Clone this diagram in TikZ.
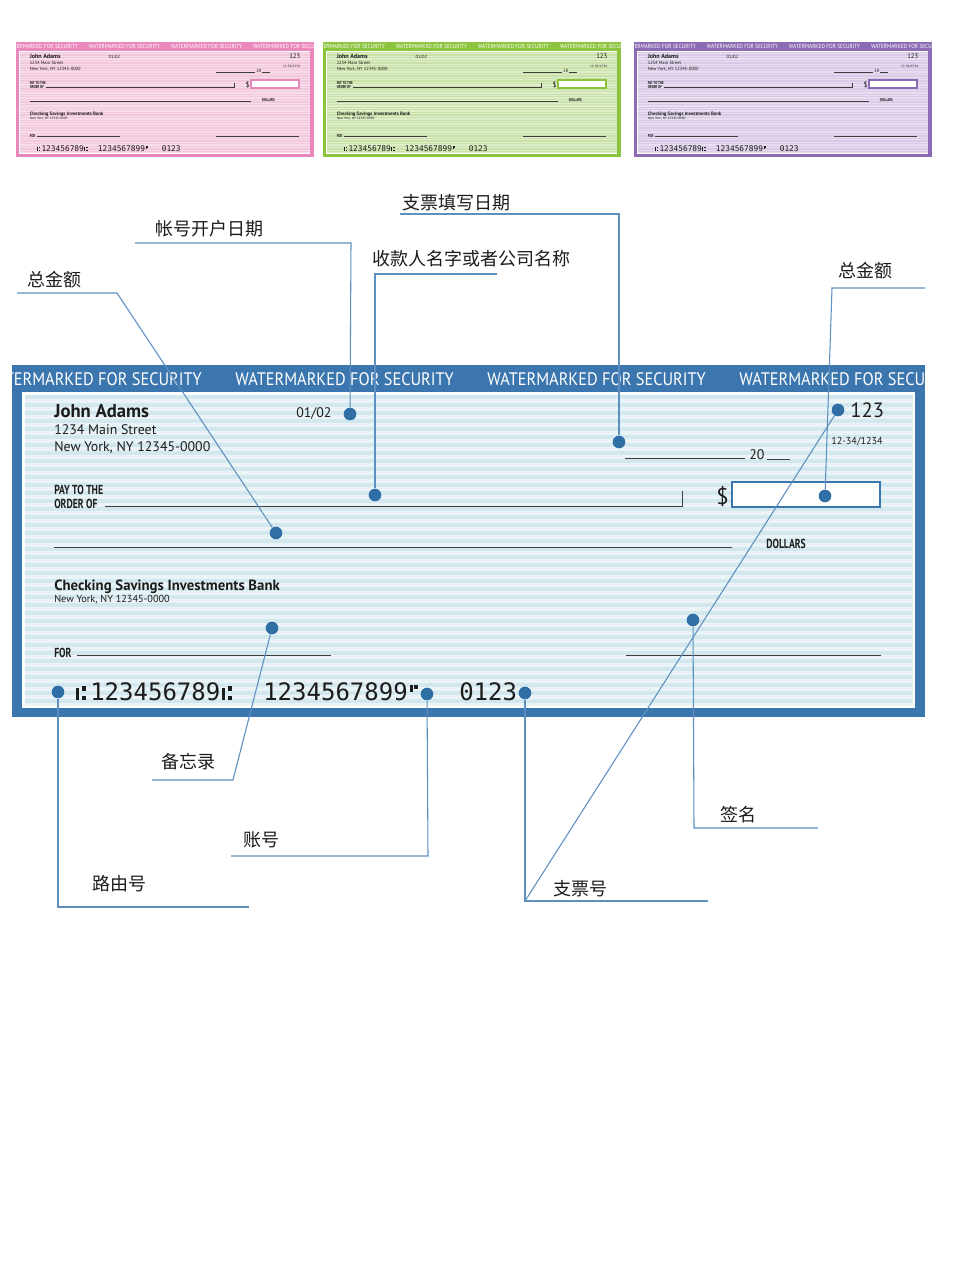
\documentclass[tikz,border=0pt]{standalone}
\usepackage{fontspec}
\setmainfont{PT Sans}
\newfontfamily\condfont[FakeStretch=0.74]{PT Sans}
\newfontfamily\hdrfont[FakeStretch=0.9]{PT Sans}
\newfontfamily\micrfont{DejaVu Sans Mono}
\newfontfamily\cjk{Noto Sans CJK SC}
\definecolor{mainframe}{HTML}{3B76AE}
\definecolor{maininner}{HTML}{EAF4F7}
\definecolor{mainstripe}{HTML}{D3E8EE}
\definecolor{pinkframe}{HTML}{EA88BC}
\definecolor{pinkinner}{HTML}{F9DCE9}
\definecolor{pinkstripe}{HTML}{F2C8DB}
\definecolor{greenframe}{HTML}{8CC43F}
\definecolor{greeninner}{HTML}{DEEEC8}
\definecolor{greenstripe}{HTML}{C9E1A8}
\definecolor{purpframe}{HTML}{8B6BB3}
\definecolor{purpinner}{HTML}{E8DEF0}
\definecolor{purpstripe}{HTML}{D8C9E6}
\definecolor{conncol}{HTML}{5D8FC0}
\definecolor{dotcol}{HTML}{2F6FA5}
\definecolor{ink}{HTML}{1C1C1C}
\tikzset{
  txt/.style={inner sep=0pt,anchor=base west,text=ink},
  hdr/.style={inner sep=0pt,anchor=base west,font=\hdrfont\fontsize{13.6}{14}\selectfont},
  rule/.style={draw=ink!85,line width=0.7pt},
  micr/.style={inner sep=0pt,anchor=base west,text=ink,font=\micrfont\fontsize{18}{19}\selectfont},
  conn/.style={draw=conncol,line width=0.8pt},
  dotnode/.style={circle,fill=dotcol,minimum size=9.5pt,inner sep=0pt},
  lbl/.style={inner sep=0pt,font=\cjk\fontsize{13.5}{14}\selectfont,text=ink},
}
% MICR transit and on-us symbols drawn as shapes (no installed font has them)
\newcommand{\transitsym}[1]{%
  \fill[ink] (#1,323) rectangle ({#1+3},335);
  \fill[ink] ({#1+5.5},321) rectangle ({#1+10},325.5);
  \fill[ink] ({#1+5.5},330.5) rectangle ({#1+10},335);
}
\newcommand{\onussym}[1]{%
  \fill[ink] (#1,320) rectangle ({#1+2.5},327);
  \fill[ink] ({#1+4},320) rectangle ({#1+8},324);
}
\newcommand{\drawcheck}[4]{%
  \fill[#1] (0,0) rectangle (913,352);
  \fill[white] (10,27) rectangle (903,343);
  \fill[#2] (13,30) rectangle (901,341);
  \foreach \k in {0,...,38} {\fill[#3] (13,{30+\k*8}) rectangle (901,{34+\k*8});}
  \begin{scope}
    \clip (0,0) rectangle (913,27);
    \foreach \xx in {-29,223,475,727} {\node[hdr,text=#4] at (\xx,20) {WATERMARKED FOR SECURITY};}
  \end{scope}
  \node[txt,font=\bfseries\fontsize{14}{15}\selectfont] at (42,52) {John Adams};
  \node[txt,font=\fontsize{10.4}{11}\selectfont] at (42,69) {1234 Main Street};
  \node[txt,font=\fontsize{10.4}{11}\selectfont] at (42,86) {New York, NY 12345-0000};
  \node[txt,font=\fontsize{10.4}{11}\selectfont] at (284,52) {01/02};
  \node[txt,font=\fontsize{15.5}{16}\selectfont] at (838,52) {123};
  \node[txt,font=\fontsize{7.6}{8}\selectfont] at (819,79) {12-34/1234};
  \draw[rule] (613,93) -- (733,93);
  \node[txt,font=\fontsize{10.4}{11}\selectfont] at (737,94) {20};
  \draw[rule] (755,94) -- (778,94);
  \node[txt,font=\condfont\bfseries\fontsize{9.8}{10}\selectfont] at (42,129) {PAY TO THE};
  \node[txt,font=\condfont\bfseries\fontsize{9.8}{10}\selectfont] at (42,143) {ORDER OF};
  \draw[rule] (93,141) -- (670,141) -- (670,126);
  \node[txt,font=\fontsize{17}{18}\selectfont] at (704,139) {\$};
  \draw[fill=white,draw=#1,line width=1.2pt] (720,117) rectangle (868,142);
  \draw[rule] (42,182) -- (720,182);
  \node[txt,font=\condfont\bfseries\fontsize{9.8}{10}\selectfont] at (754,183) {DOLLARS};
  \node[txt,font=\bfseries\fontsize{11.1}{12}\selectfont] at (42,225) {Checking Savings Investments Bank};
  \node[txt,font=\fontsize{7.7}{8}\selectfont] at (42,237) {New York, NY 12345-0000};
  \node[txt,font=\condfont\bfseries\fontsize{9.8}{10}\selectfont] at (42,292) {FOR};
  \draw[rule] (65,290) -- (319,290);
  \draw[rule] (614,290) -- (869,290);
  \transitsym{64}
  \node[micr] at (78,335) {123456789};
  \transitsym{210}
  \node[micr] at (251,335) {1234567899};
  \onussym{398}
  \node[micr] at (447,335) {0123};
}
\begin{document}
\begin{tikzpicture}[x=0.75pt,y=-0.75pt]
\useasboundingbox (0,0) rectangle (960,1280);
\fill[white] (0,0) rectangle (960,1280);
% small checks
\begin{scope}[shift={(16,42)},scale=0.326,transform shape]
  \drawcheck{pinkframe}{pinkinner}{pinkstripe}{white}
\end{scope}
\begin{scope}[shift={(323,42)},scale=0.326,transform shape]
  \drawcheck{greenframe}{greeninner}{greenstripe}{white}
\end{scope}
\begin{scope}[shift={(634,42)},scale=0.326,transform shape]
  \drawcheck{purpframe}{purpinner}{purpstripe}{white}
\end{scope}
% main check
\begin{scope}[shift={(12,365)}]
  \drawcheck{mainframe}{maininner}{mainstripe}{white}
\end{scope}
% dots
\node[dotnode] (dOpen) at (350,414) {};
\node[dotnode] (dNo) at (838,410) {};
\node[dotnode] (dDate) at (619,442) {};
\node[dotnode] (dPayee) at (375,495) {};
\node[dotnode] (dAmt) at (825,496) {};
\node[dotnode] (dWords) at (276,533) {};
\node[dotnode] (dMemo) at (272,628) {};
\node[dotnode] (dSig) at (693,620) {};
\node[dotnode] (dRout) at (58,692) {};
\node[dotnode] (dAcct) at (427,694) {};
\node[dotnode] (dNum) at (525,693) {};
% labels
\node[lbl] (lOpen) at (209,229) {帐号开户日期};
\node[lbl] (lDate) at (456,203) {支票填写日期};
\node[lbl] (lPayee) at (471,259) {收款人名字或者公司名称};
\node[lbl] (lWords) at (54,280) {总金额};
\node[lbl] (lAmt) at (865,271) {总金额};
\node[lbl] (lMemo) at (188,762) {备忘录};
\node[lbl] (lAcct) at (261,840) {账号};
\node[lbl] (lRout) at (119,884) {路由号};
\node[lbl] (lNum) at (580,889) {支票号};
\node[lbl] (lSig) at (738,815) {签名};
% underline coordinates
\coordinate (uOpenA) at (135,243); \coordinate (uOpenB) at (351,243);
\coordinate (uDateA) at (400,214); \coordinate (uDateB) at (619,214);
\coordinate (uPayA) at (497,274); \coordinate (uPayB) at (375,274);
\coordinate (uWA) at (17,293); \coordinate (uWB) at (117,293);
\coordinate (uAmA) at (925,288); \coordinate (uAmB) at (832,288);
\coordinate (uMemA) at (152,780); \coordinate (uMemB) at (233,780);
\coordinate (uAcA) at (231,856); \coordinate (uAcB) at (428,856);
\coordinate (uRoA) at (249,907); \coordinate (uRoB) at (58,907);
\coordinate (uNuA) at (708,901); \coordinate (uNuB) at (525,901);
\coordinate (uSiA) at (818,828); \coordinate (uSiB) at (694,828);
% connectors
\draw[conn] (uOpenA) -- (uOpenB) -- (dOpen);
\draw[conn] (uDateA) -- (uDateB) -- (dDate);
\draw[conn] (uPayA) -- (uPayB) -- (dPayee);
\draw[conn] (uWA) -- (uWB) -- (dWords);
\draw[conn] (uAmA) -- (uAmB) -- (dAmt);
\draw[conn] (uMemA) -- (uMemB) -- (dMemo);
\draw[conn] (uAcA) -- (uAcB) -- (dAcct);
\draw[conn] (uRoA) -- (uRoB) -- (dRout);
\draw[conn] (uNuA) -- (uNuB) -- (dNum);
\draw[conn] (uNuB) -- (dNo);
\draw[conn] (uSiA) -- (uSiB) -- (dSig);
\end{tikzpicture}
\end{document}
